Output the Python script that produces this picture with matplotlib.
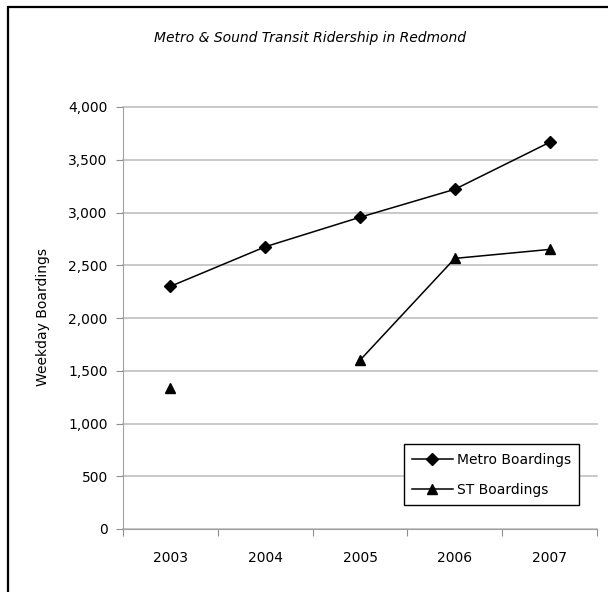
import numpy as np
import matplotlib.pyplot as plt
from matplotlib.patches import Rectangle
from matplotlib.ticker import FuncFormatter

# datos
anios = ['2003', '2004', '2005', '2006', '2007']
metro = [2300, 2675, 2955, 3220, 3665]
st = [1335, np.nan, 1600, 2565, 2650]  # 2004 sin dato
yticks = [0, 500, 1000, 1500, 2000, 2500, 3000, 3500, 4000]

fig = plt.figure(figsize=(6.08, 5.92), dpi=100)
ax = fig.add_axes([123/608, 1-529/592, 474/608, 422/592])

x = np.arange(len(anios))
ax.plot(x, metro, color='black', lw=1.1, marker='D', ms=6, label='Metro Boardings')
ax.plot(x, st, color='black', lw=1.1, marker='^', ms=7.5, label='ST Boardings')

ax.set_xlim(-0.5, len(anios)-0.5)
ax.set_ylim(0, 4000)
ax.set_yticks(yticks)
ax.yaxis.set_major_formatter(FuncFormatter(lambda v, p: f'{int(v):,}'))
ax.set_xticks(np.arange(-0.5, len(anios)), minor=False)
ax.set_xticklabels([])
ax.set_xticks(x, minor=True)
ax.set_xticklabels(anios, minor=True)
ax.tick_params(axis='x', which='major', length=5, color='#909090', direction='out')
ax.tick_params(axis='x', which='minor', length=0, pad=16, labelsize=10)
ax.tick_params(axis='y', length=5, color='#909090', pad=6, labelsize=10)

ax.grid(axis='y', color='#c0c0c0', lw=1.2)
ax.set_axisbelow(True)
for linea in ax.get_ygridlines():
    linea.set_clip_on(False)
for lado in ['top', 'right']:
    ax.spines[lado].set_visible(False)
for lado in ['left', 'bottom']:
    ax.spines[lado].set_color('#a0a0a0')

fig.text(310/608, 1-38/592, 'Metro & Sound Transit Ridership in Redmond',
         ha='center', va='center', style='italic', fontsize=10)
fig.text(43/608, 1-317/592, 'Weekday Boardings', rotation=90,
         ha='center', va='center', fontsize=10)

leg = ax.legend(loc='lower left', bbox_to_anchor=((404-123)/474, (529-505)/422),
                borderaxespad=0, fancybox=False, edgecolor='black', framealpha=1,
                handlelength=2.9, handletextpad=0.3, labelspacing=1.15,
                borderpad=0.6, fontsize=10)
leg.get_frame().set_linewidth(1.0)

# marco del grafico
fig.patches.append(Rectangle((8/608, -0.02), 1.0, 1-7/592+0.02, transform=fig.transFigure,
                             fill=False, edgecolor='black', lw=1.6))

plt.savefig('out.png', dpi=100)
